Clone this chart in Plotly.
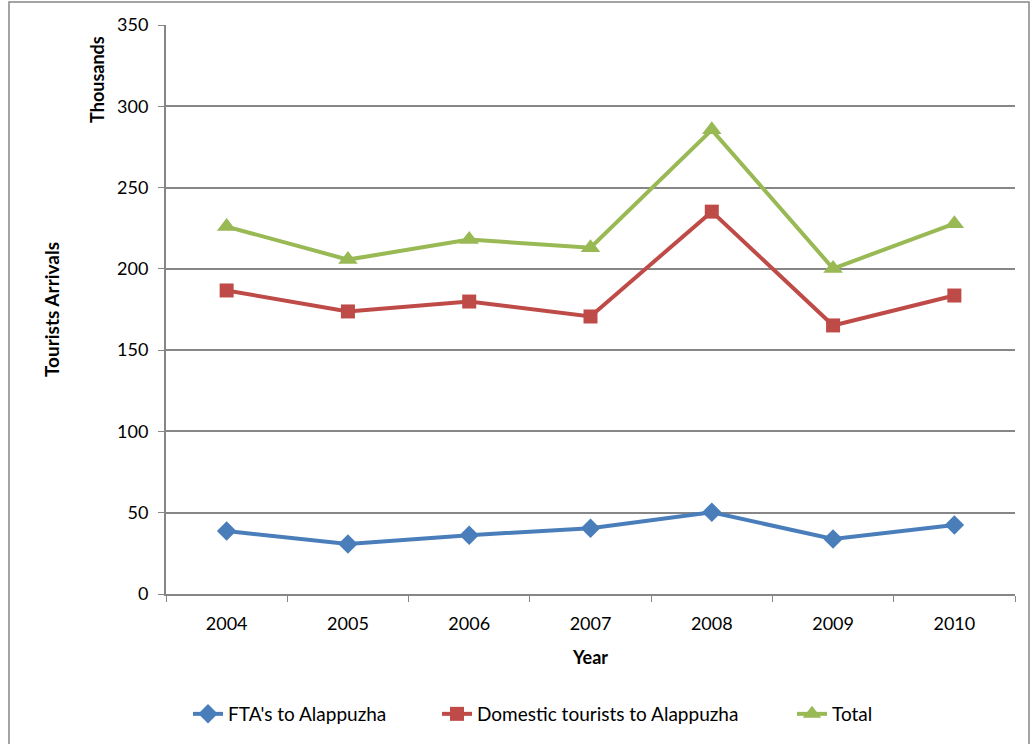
import plotly.graph_objects as go

years = ["2004", "2005", "2006", "2007", "2008", "2009", "2010"]
fta = [38.7, 30.7, 36.2, 40.5, 50.3, 33.8, 42.4]
domestic = [186.7, 173.8, 179.9, 170.7, 235.2, 165.2, 183.6]
total = [226.0, 205.7, 218.0, 213.0, 285.5, 200.2, 227.8]

FONT = "Lato"
L, T, PW, PH = 166, 25, 849, 570
fig = go.Figure()
fig.add_trace(go.Scatter(x=years, y=fta, name="FTA's to Alappuzha", mode="lines+markers",
                         line=dict(color="#4A7EBB", width=4), legend="legend",
                         marker=dict(symbol="diamond", size=15, color="#4A7EBB")))
fig.add_trace(go.Scatter(x=years, y=domestic, name="Domestic tourists to Alappuzha", mode="lines+markers",
                         line=dict(color="#BE4B48", width=4), legend="legend2",
                         marker=dict(symbol="square", size=14, color="#BE4B48")))
fig.add_trace(go.Scatter(x=years, y=total, name="Total", mode="lines+markers",
                         line=dict(color="#98B954", width=4), legend="legend3",
                         marker=dict(symbol="triangle-up", size=17, color="#98B954")))


def leg(text_start_px):
    return dict(orientation="h", x=(text_start_px - 39 - L) / PW, xanchor="left",
                y=-(714 - 595) / PH, yanchor="middle", font=dict(size=19),
                bgcolor="rgba(0,0,0,0)")


fig.update_layout(
    width=1031, height=744,
    margin=dict(l=L, r=16, t=T, b=149),
    paper_bgcolor="white", plot_bgcolor="white",
    font=dict(family=FONT, size=18, color="black"),
    showlegend=True,
    legend=leg(227), legend2=leg(476), legend3=leg(831),
    xaxis=dict(type="category", range=[-0.5, 6.5], tickson="boundaries", ticks="outside", ticklen=6,
               tickcolor="#868686", showline=True, linecolor="#868686", linewidth=2,
               showgrid=False, ticklabelstandoff=12,
               title=dict(text="<b>Year</b>", font=dict(size=18), standoff=19),
               tickfont=dict(size=18)),
    yaxis=dict(range=[0, 350], dtick=50, ticks="outside", ticklen=6, tickcolor="#868686",
               showline=True, linecolor="#868686", linewidth=2, gridcolor="#868686", gridwidth=1.5,
               zeroline=False, tickfont=dict(size=18), ticklabelstandoff=6,
               title=dict(text="<b>Tourists Arrivals</b>", font=dict(size=19), standoff=52)),
    shapes=[dict(type="rect", xref="paper", yref="paper",
                 x0=(9 - L) / PW, x1=(1029 - L) / PW, y0=-(760 - 595) / PH, y1=(595 - 2) / PH,
                 line=dict(color="#868686", width=1.5), fillcolor="rgba(0,0,0,0)")],
    annotations=[dict(text="<b>Thousands</b>", xref="paper", yref="paper",
                      x=(97 - L) / PW, y=(595 - 80) / PH, textangle=-90, showarrow=False,
                      font=dict(size=18), xanchor="center", yanchor="middle")],
)

fig.write_html("out.html")
